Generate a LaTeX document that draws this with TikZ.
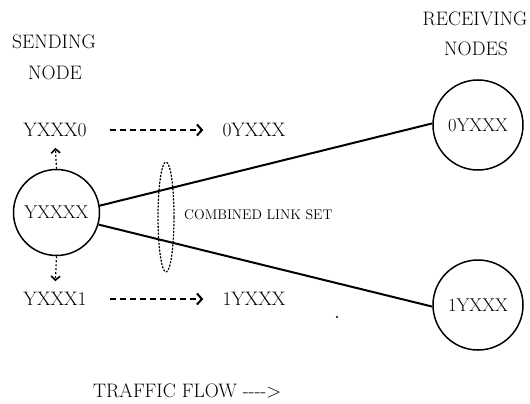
\documentclass[tikz,border=0pt]{standalone}
\usetikzlibrary{arrows.meta,shapes.geometric}
\begin{document}
\begin{tikzpicture}[x=1pt,y=-1pt,
  lbl/.style={font=\fontsize{19.5}{21}\selectfont, inner sep=2pt},
  nd/.style={circle, draw, line width=1.5pt, inner sep=0pt, font=\fontsize{18.5}{20}\selectfont},
  link/.style={line width=2pt},
  flow/.style={line width=1.8pt, dash pattern=on 6pt off 4pt, -{Straight Barb[length=5pt,width=11pt,line width=2pt]}},
  vflow/.style={line width=1.2pt, dash pattern=on 2pt off 2pt, -{Straight Barb[length=4pt,width=9pt,line width=1.6pt]}},
  linkset/.style={ellipse, draw, line width=1.3pt, dash pattern=on 1.2pt off 2.2pt, line cap=round, inner sep=0pt, minimum width=16pt, minimum height=110pt}]
\useasboundingbox (0,0) rectangle (530,404);

% headings
\node[lbl] (sending) at (54,42) {SENDING};
\node[lbl] (snode) at (55,73) {NODE};
\node[lbl] (receiving) at (475,19) {RECEIVING};
\node[lbl] (rnodes) at (476,49) {NODES};

% nodes
\node[nd, minimum size=86pt] (s) at (56.5,212.5) {YXXXX};
\node[nd, minimum size=90pt] (r0) at (478,125) {0YXXX};
\node[nd, minimum size=90pt] (r1) at (478,305) {1YXXX};

% address labels
\node[lbl] (y0) at (55,130) {YXXX0};
\node[lbl] (o0) at (254,130) {0YXXX};
\node[lbl] (y1) at (55,299) {YXXX1};
\node[lbl] (o1) at (254,299) {1YXXX};

% flows
\draw[flow, shorten <=21pt, shorten >=17pt] (y0.east) -- (o0.west);
\draw[flow, shorten <=21pt, shorten >=17pt] (y1.east) -- (o1.west);
\draw[vflow, shorten >=9pt] (s.north) -- (y0.south);
\draw[vflow, shorten >=9pt] (s.south) -- (y1.north);

% links
\draw[link] (s.9) -- (r0.178);
\draw[link] (s.-16) -- (r1.182);

% combined link set
\node[linkset] (ls) at (166,217) {};
\node[anchor=west, inner sep=0pt, font=\fontsize{14}{15}\selectfont] (lslbl) at (184,215) {COMBINED LINK SET};

% traffic flow
\node[lbl, anchor=west, inner sep=0pt] (tf) at (93,391) {TRAFFIC FLOW {-}{-}{-}{-}>};

\fill (337,317) circle (1.1pt);
\end{tikzpicture}
\end{document}
